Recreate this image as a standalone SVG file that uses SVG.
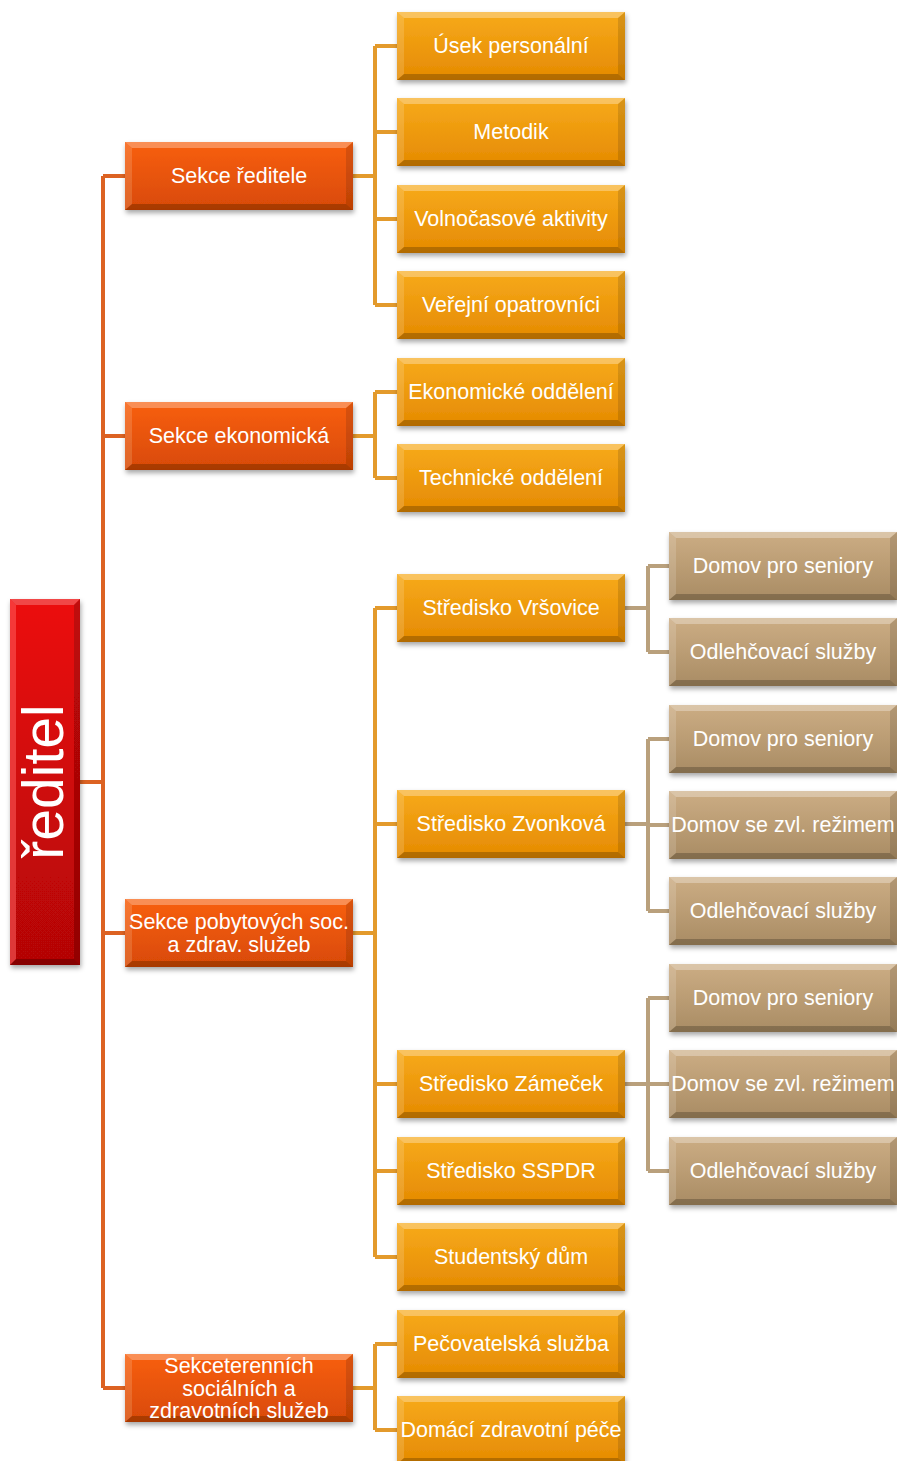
<svg xmlns="http://www.w3.org/2000/svg" xmlns:xlink="http://www.w3.org/1999/xlink" width="897" height="1461" viewBox="0 0 897 1461">
<defs>
<style>
.t{font-family:"Liberation Sans",Arial,sans-serif;font-size:21.5px;fill:#fff;text-anchor:middle}
.c0{fill:none;stroke:#DC6222;stroke-width:4}
.c1{fill:none;stroke:#E39A2C;stroke-width:4}
.c2{fill:none;stroke:#B9A07C;stroke-width:4}
</style>
<linearGradient id="gR" x1="0" y1="0" x2="0" y2="1"><stop offset="0" stop-color="#EC0A0A"/><stop offset="1" stop-color="#B30606"/></linearGradient>
<linearGradient id="g1" x1="0" y1="0" x2="0" y2="1"><stop offset="0" stop-color="#F85F0C"/><stop offset="1" stop-color="#D84A06"/></linearGradient>
<linearGradient id="g2" x1="0" y1="0" x2="0" y2="1"><stop offset="0" stop-color="#F7AA1A"/><stop offset="1" stop-color="#E58A02"/></linearGradient>
<linearGradient id="g3" x1="0" y1="0" x2="0" y2="1"><stop offset="0" stop-color="#CCAD84"/><stop offset="1" stop-color="#A98C64"/></linearGradient>
<filter id="sh" x="-10%" y="-10%" width="125%" height="135%"><feDropShadow dx="1" dy="3" stdDeviation="2.5" flood-color="#000" flood-opacity="0.35"/></filter>
<g id="bev">
<polygon points="0,0 228,0 221,6 7,6" fill="#fff" opacity="0.3"/>
<polygon points="0,0 7,6 7,62 0,68" fill="#fff" opacity="0.15"/>
<polygon points="228,0 228,68 221,62 221,6" fill="#000" opacity="0.12"/>
<polygon points="0,68 7,62 221,62 228,68" fill="#000" opacity="0.22"/>
</g>
<g id="b1"><rect width="228" height="68" fill="url(#g1)"/><use xlink:href="#bev"/></g>
<g id="b2"><rect width="228" height="68" fill="url(#g2)"/><use xlink:href="#bev"/></g>
<g id="b3"><rect width="228" height="68" fill="url(#g3)"/><use xlink:href="#bev"/></g>
</defs>
<rect width="897" height="1461" fill="#fff"/>
<g id="connectors">
<path class="c0" d="M80,782H103M103,176V1388M103,176H125M103,436H125M103,933H125M103,1388H125"/>
<path class="c1" d="M352,176H375M375,46V305M375,46H397M375,132H397M375,219H397M375,305H397"/>
<path class="c1" d="M352,436H375M375,392V478M375,392H397M375,478H397"/>
<path class="c1" d="M352,933H375M375,608V1257M375,608H397M375,824H397M375,1084H397M375,1171H397M375,1257H397"/>
<path class="c1" d="M352,1388H375M375,1344V1430M375,1344H397M375,1430H397"/>
<path class="c2" d="M625,608H648M648,566V652M648,566H670M648,652H670"/>
<path class="c2" d="M625,824H648M648,739V911M648,739H670M648,825H670M648,911H670"/>
<path class="c2" d="M625,1084H648M648,998V1171M648,998H670M648,1084H670M648,1171H670"/>
</g>
<g id="root">
<g filter="url(#sh)"><rect x="10" y="599" width="70" height="366" fill="url(#gR)"/>
<polygon points="10,599 80,599 74,605 16,605" fill="#fff" opacity="0.25"/>
<polygon points="10,599 16,605 16,959 10,965" fill="#ff6060" opacity="0.55"/>
<polygon points="80,599 80,965 74,959 74,605" fill="#000" opacity="0.18"/>
<polygon points="10,965 16,959 74,959 80,965" fill="#000" opacity="0.25"/></g>
<text class="t" style="font-size:57px" transform="translate(63,782) rotate(-90)">ředitel</text>
</g>
<g id="n-sekce-reditele"><use xlink:href="#b1" x="125" y="142" filter="url(#sh)"/><text class="t" x="239" y="183">Sekce ředitele</text></g>
<g id="n-sekce-ekonomicka"><use xlink:href="#b1" x="125" y="402" filter="url(#sh)"/><text class="t" x="239" y="443">Sekce ekonomická</text></g>
<g id="n-sekce-pobytovych"><use xlink:href="#b1" x="125" y="899" filter="url(#sh)"/><text class="t" x="239" y="929">Sekce pobytových soc.</text><text class="t" x="239" y="952">a zdrav. služeb</text></g>
<g id="n-sekce-terennich"><use xlink:href="#b1" x="125" y="1354" filter="url(#sh)"/><text class="t" x="239" y="1373">Sekceterenních</text><text class="t" x="239" y="1396">sociálních a</text><text class="t" x="239" y="1418">zdravotních služeb</text></g>
<g id="n-usek"><use xlink:href="#b2" x="397" y="12" filter="url(#sh)"/><text class="t" x="511" y="53">Úsek personální</text></g>
<g id="n-metodik"><use xlink:href="#b2" x="397" y="98" filter="url(#sh)"/><text class="t" x="511" y="139">Metodik</text></g>
<g id="n-volnocas"><use xlink:href="#b2" x="397" y="185" filter="url(#sh)"/><text class="t" x="511" y="226">Volnočasové aktivity</text></g>
<g id="n-verejni"><use xlink:href="#b2" x="397" y="271" filter="url(#sh)"/><text class="t" x="511" y="312">Veřejní opatrovníci</text></g>
<g id="n-ekonom"><use xlink:href="#b2" x="397" y="358" filter="url(#sh)"/><text class="t" x="511" y="399">Ekonomické oddělení</text></g>
<g id="n-technicke"><use xlink:href="#b2" x="397" y="444" filter="url(#sh)"/><text class="t" x="511" y="485">Technické oddělení</text></g>
<g id="n-vrsovice"><use xlink:href="#b2" x="397" y="574" filter="url(#sh)"/><text class="t" x="511" y="615">Středisko Vršovice</text></g>
<g id="n-zvonkova"><use xlink:href="#b2" x="397" y="790" filter="url(#sh)"/><text class="t" x="511" y="831">Středisko Zvonková</text></g>
<g id="n-zamecek"><use xlink:href="#b2" x="397" y="1050" filter="url(#sh)"/><text class="t" x="511" y="1091">Středisko Zámeček</text></g>
<g id="n-sspdr"><use xlink:href="#b2" x="397" y="1137" filter="url(#sh)"/><text class="t" x="511" y="1178">Středisko SSPDR</text></g>
<g id="n-studentsky"><use xlink:href="#b2" x="397" y="1223" filter="url(#sh)"/><text class="t" x="511" y="1264">Studentský dům</text></g>
<g id="n-pecovatelska"><use xlink:href="#b2" x="397" y="1310" filter="url(#sh)"/><text class="t" x="511" y="1351">Pečovatelská služba</text></g>
<g id="n-domaci"><use xlink:href="#b2" x="397" y="1396" filter="url(#sh)"/><text class="t" x="511" y="1437">Domácí zdravotní péče</text></g>
<g id="n-v-dps"><use xlink:href="#b3" x="669" y="532" filter="url(#sh)"/><text class="t" x="783" y="573">Domov pro seniory</text></g>
<g id="n-v-odl"><use xlink:href="#b3" x="669" y="618" filter="url(#sh)"/><text class="t" x="783" y="659">Odlehčovací služby</text></g>
<g id="n-z-dps"><use xlink:href="#b3" x="669" y="705" filter="url(#sh)"/><text class="t" x="783" y="746">Domov pro seniory</text></g>
<g id="n-z-dzr"><use xlink:href="#b3" x="669" y="791" filter="url(#sh)"/><text class="t" x="783" y="832">Domov se zvl. režimem</text></g>
<g id="n-z-odl"><use xlink:href="#b3" x="669" y="877" filter="url(#sh)"/><text class="t" x="783" y="918">Odlehčovací služby</text></g>
<g id="n-m-dps"><use xlink:href="#b3" x="669" y="964" filter="url(#sh)"/><text class="t" x="783" y="1005">Domov pro seniory</text></g>
<g id="n-m-dzr"><use xlink:href="#b3" x="669" y="1050" filter="url(#sh)"/><text class="t" x="783" y="1091">Domov se zvl. režimem</text></g>
<g id="n-m-odl"><use xlink:href="#b3" x="669" y="1137" filter="url(#sh)"/><text class="t" x="783" y="1178">Odlehčovací služby</text></g>
</svg>
